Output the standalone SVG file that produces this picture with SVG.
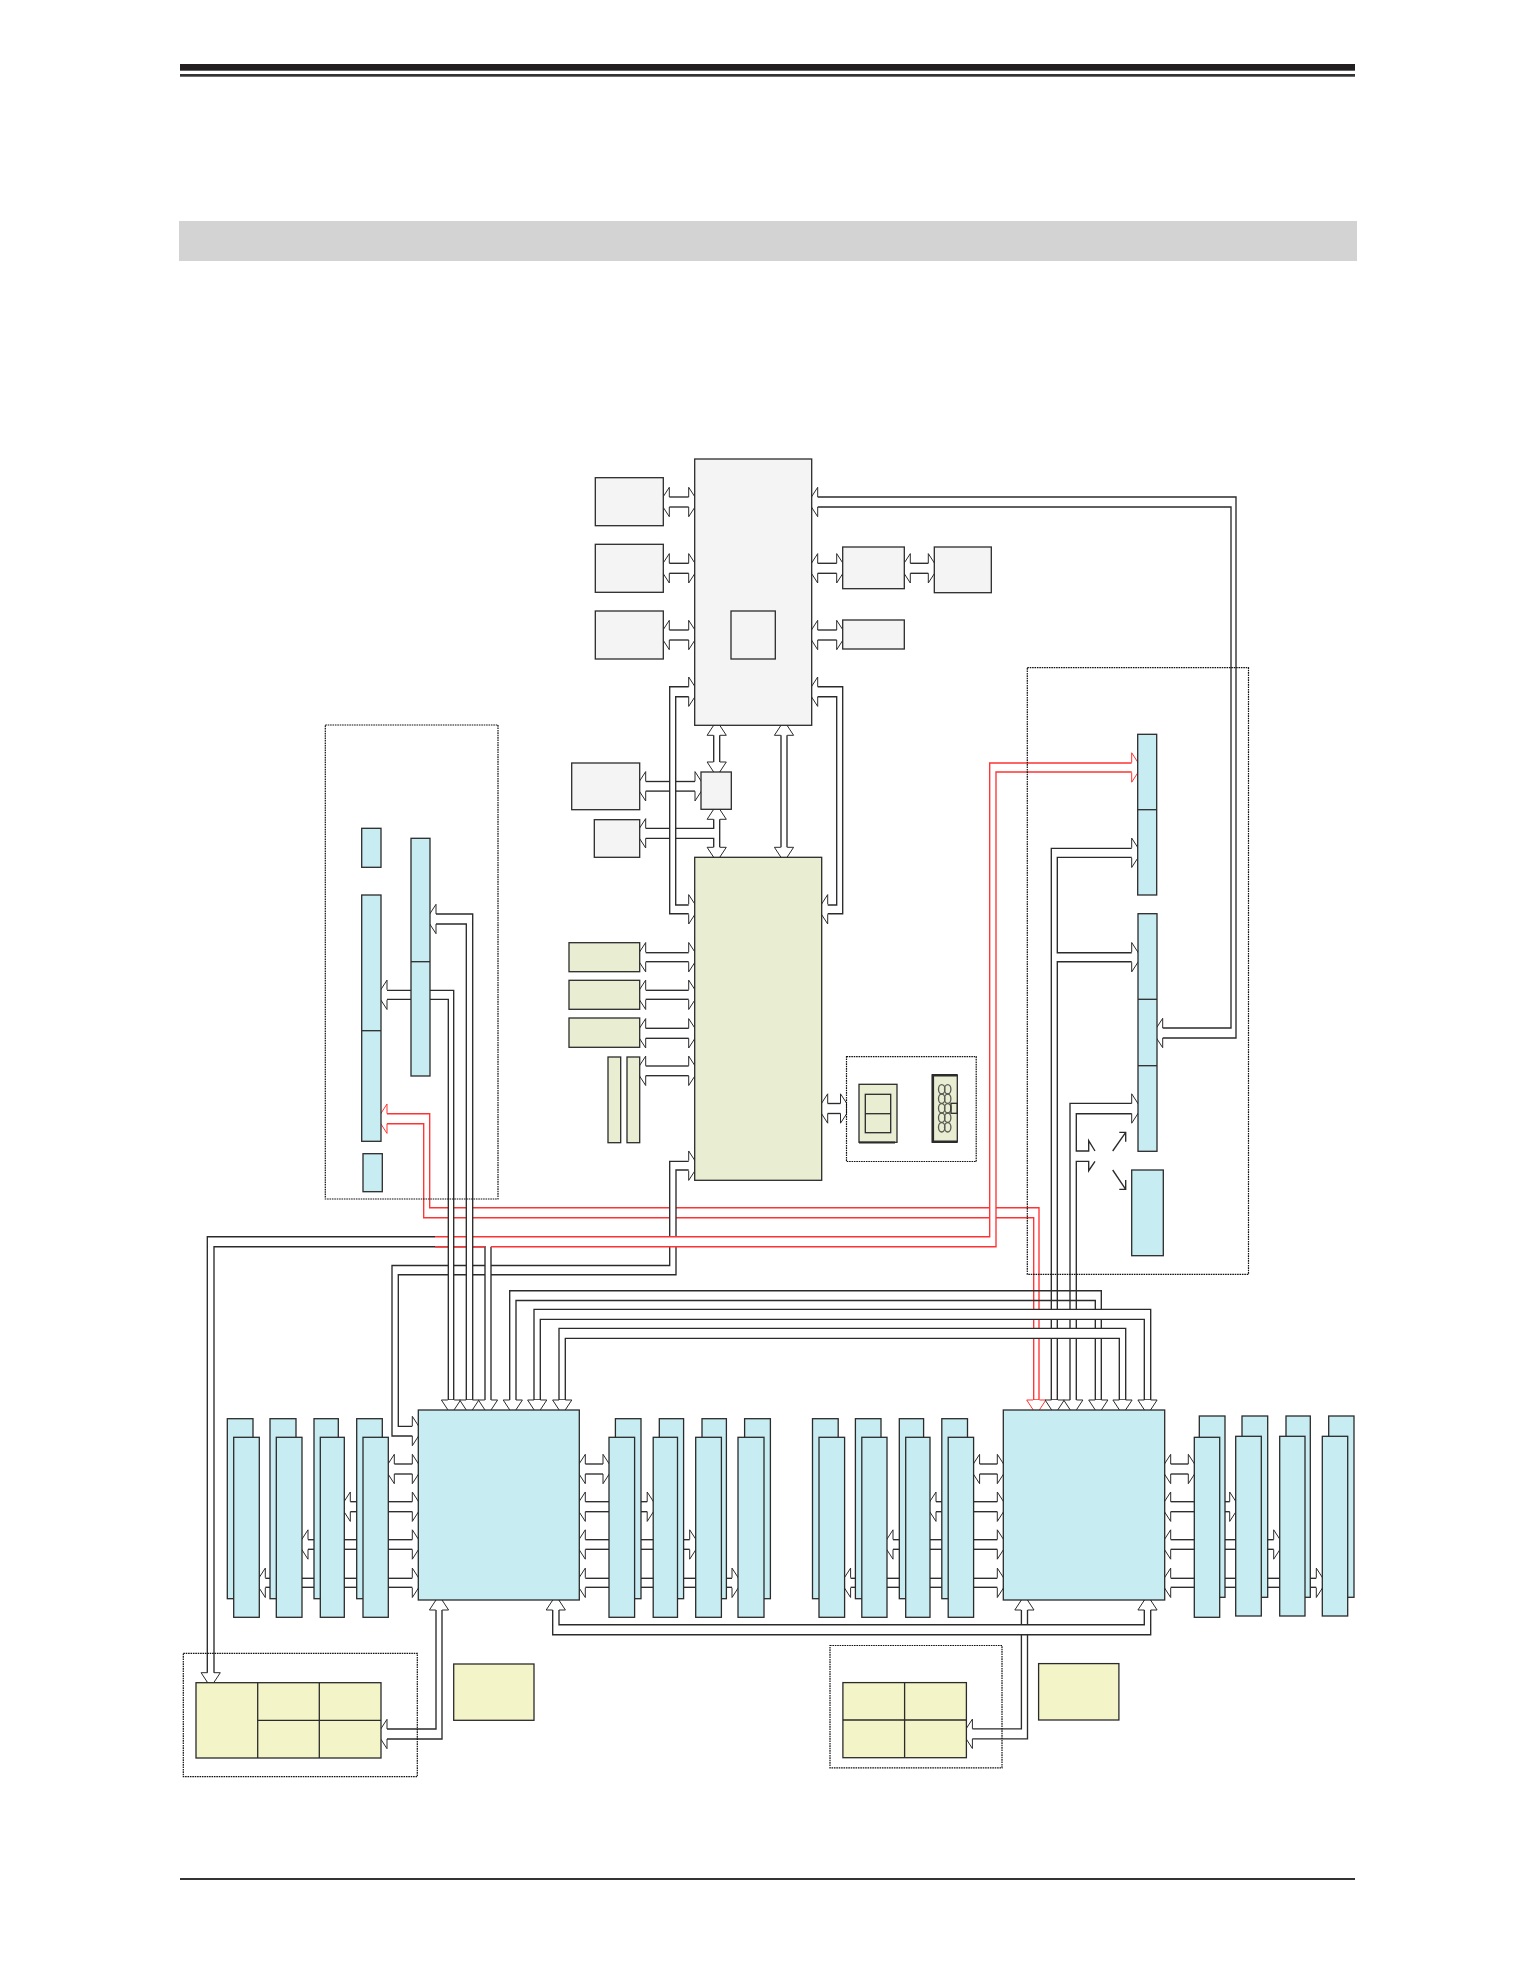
<svg xmlns="http://www.w3.org/2000/svg" xmlns:xlink="http://www.w3.org/1999/xlink" width="1536" height="1988" viewBox="0 0 1536 1988">
<style>
.g{fill:#f4f4f4}.e{fill:#e9edd2}.b{fill:#c7ecf2}.y{fill:#f3f4c8}
#nodes rect,#nodes line,#nodes ellipse,#nodes path{stroke:#2b2b2b;stroke-width:1.3}
.dash{fill:none;stroke:#111;stroke-width:1.2;stroke-dasharray:1.6 .8}
.n{fill:none}
defs path{stroke-width:1}
</style>
<defs>
<path id="hr" d="M-9.5,-5V-14.7L0,0L-9.5,14.7V5"/>
<path id="hl" d="M9.5,-5V-14.7L0,0L9.5,14.7V5"/>
<path id="hd" d="M-3.2,-14.6H-9.6L0,0L9.6,-14.6H3.2"/>
<path id="hu" d="M-3.2,14.6H-9.6L0,0L9.6,14.6H3.2"/>
</defs>
<rect width="1536" height="1988" fill="#fff"/>
<g id="page">
<rect x="180" y="64" width="1175" height="6.7" fill="#231f20"/>
<rect x="180" y="74" width="1175" height="2.7" fill="#333"/>
<rect x="179" y="221" width="1178" height="40" fill="#d3d3d3"/>
<rect x="180" y="1878" width="1175" height="2" fill="#333"/>
</g>
<g id="connectors" fill="#fff" stroke="#2b2b2b" stroke-width="1.35">
<!-- memory rows -->
<g id="mem-cpu1-left">
<rect x="388.3" y="1464" width="30" height="10"/><use href="#hl" x="384.8" y="1469"/><use href="#hr" x="421.8" y="1469"/>
<rect x="344.3" y="1501.7" width="74" height="10"/><use href="#hl" x="340.8" y="1506.7"/><use href="#hr" x="421.8" y="1506.7"/>
<rect x="302" y="1539.7" width="116.3" height="9.6"/><use href="#hl" x="298.5" y="1544.5"/><use href="#hr" x="421.8" y="1544.5"/>
<rect x="259.3" y="1578.3" width="159" height="9"/><use href="#hl" x="255.8" y="1582.8"/><use href="#hr" x="421.8" y="1582.8"/>
</g>
<g id="mem-cpu1-right">
<rect x="579.3" y="1464" width="29.7" height="10"/><use href="#hl" x="575.8" y="1469"/><use href="#hr" x="612.5" y="1469"/>
<rect x="579.3" y="1501.7" width="73.9" height="10"/><use href="#hl" x="575.8" y="1506.7"/><use href="#hr" x="656.7" y="1506.7"/>
<rect x="579.3" y="1539.7" width="116.4" height="9.6"/><use href="#hl" x="575.8" y="1544.5"/><use href="#hr" x="699.2" y="1544.5"/>
<rect x="579.3" y="1578.3" width="158.7" height="9"/><use href="#hl" x="575.8" y="1582.8"/><use href="#hr" x="741.5" y="1582.8"/>
</g>
<g id="mem-cpu2-left">
<rect x="973.6" y="1464" width="29.7" height="10"/><use href="#hl" x="970.1" y="1469"/><use href="#hr" x="1006.8" y="1469"/>
<rect x="930" y="1501.7" width="73.3" height="10"/><use href="#hl" x="926.5" y="1506.7"/><use href="#hr" x="1006.8" y="1506.7"/>
<rect x="887" y="1539.7" width="116.3" height="9.6"/><use href="#hl" x="883.5" y="1544.5"/><use href="#hr" x="1006.8" y="1544.5"/>
<rect x="844.6" y="1578.3" width="158.7" height="9"/><use href="#hl" x="841.1" y="1582.8"/><use href="#hr" x="1006.8" y="1582.8"/>
</g>
<g id="mem-cpu2-right">
<rect x="1164.7" y="1464" width="29.6" height="10"/><use href="#hl" x="1161.2" y="1469"/><use href="#hr" x="1197.8" y="1469"/>
<rect x="1164.7" y="1501.7" width="71" height="10"/><use href="#hl" x="1161.2" y="1506.7"/><use href="#hr" x="1239.2" y="1506.7"/>
<rect x="1164.7" y="1539.7" width="115" height="9.6"/><use href="#hl" x="1161.2" y="1544.5"/><use href="#hr" x="1283.2" y="1544.5"/>
<rect x="1164.7" y="1578.3" width="157.6" height="9"/><use href="#hl" x="1161.2" y="1582.8"/><use href="#hr" x="1325.8" y="1582.8"/>
</g>
<!-- PCH region -->
<rect x="663.3" y="497" width="31.4" height="10"/><use href="#hl" x="659.8" y="502"/><use href="#hr" x="698.2" y="502"/>
<rect x="663.3" y="563.3" width="31.4" height="10"/><use href="#hl" x="659.8" y="568.3"/><use href="#hr" x="698.2" y="568.3"/>
<rect x="663.3" y="630" width="31.4" height="10"/><use href="#hl" x="659.8" y="635"/><use href="#hr" x="698.2" y="635"/>
<rect x="811.7" y="563.3" width="31" height="10"/><use href="#hl" x="808.2" y="568.3"/><use href="#hr" x="846.2" y="568.3"/>
<rect x="904.3" y="563.3" width="30" height="10"/><use href="#hl" x="900.8" y="568.3"/><use href="#hr" x="937.8" y="568.3"/>
<rect x="811.7" y="630" width="31" height="10"/><use href="#hl" x="808.2" y="635"/><use href="#hr" x="846.2" y="635"/>
<path d="M812,497H1236V1038H1156V1028H1231V507H812Z"/><use href="#hl" x="808.2" y="502"/><use href="#hl" x="1153.2" y="1033"/>
<rect x="713.7" y="725.3" width="6" height="46.7"/><use href="#hu" x="716.7" y="720.7"/><use href="#hd" x="716.7" y="776.6"/>
<rect x="781" y="725.3" width="6" height="132"/><use href="#hu" x="784" y="720.7"/><use href="#hd" x="784" y="861.9"/>
<rect x="639.7" y="781.5" width="61.3" height="9.6"/><use href="#hl" x="636.2" y="786.3"/><use href="#hr" x="704.5" y="786.3"/>
<path d="M713.7,809.3V828.3H639.7V838.3H713.7V857.3H719.7V809.3Z"/><use href="#hu" x="716.7" y="804.7"/><use href="#hd" x="716.7" y="861.9"/><use href="#hl" x="636.2" y="833.3"/>
<path d="M695,686.7H669.7V913.7H695V905H675.7V696.7H695Z"/><use href="#hr" x="698.2" y="691.7"/><use href="#hr" x="698.2" y="909.3"/>
<path d="M812,686.7H842.7V913.7H821V905H836.7V696.7H812Z"/><use href="#hl" x="808.2" y="691.7"/><use href="#hl" x="818.2" y="909.3"/>
<rect x="639.7" y="952.7" width="55" height="9"/><use href="#hl" x="636.2" y="957.2"/><use href="#hr" x="698.2" y="957.2"/>
<rect x="639.7" y="990.3" width="55" height="9"/><use href="#hl" x="636.2" y="994.8"/><use href="#hr" x="698.2" y="994.8"/>
<rect x="639.7" y="1028.3" width="55" height="10"/><use href="#hl" x="636.2" y="1033.3"/><use href="#hr" x="698.2" y="1033.3"/>
<rect x="639.7" y="1066" width="55" height="9.7"/><use href="#hl" x="636.2" y="1070.8"/><use href="#hr" x="698.2" y="1070.8"/>
<rect x="821.7" y="1103.5" width="20" height="10"/><use href="#hl" x="818.2" y="1108.5"/>
<path stroke-width="1" d="M840.5,1103.5V1093.8L846.5,1103V1114L840.5,1123.2V1113.5"/>
<!-- upper red band -->
<g stroke="#f33">
<path d="M381,1113.7H429.7V1207.7H1039V1400H1033.7V1217.7H423.7V1123.7H381Z"/><use href="#hl" x="377.5" y="1118.7"/>
</g>
<!-- PCH to CPU1 -->
<path d="M695,1161.3H669.7V1265.5H392V1436H418.3V1426.3H398.3V1274.7H676V1170H695Z"/><use href="#hr" x="698.2" y="1165.7"/><use href="#hr" x="421.8" y="1431"/>
<!-- video path to CPU1 and yellow -->
<path stroke="none" d="M207.3,1690V1236.7H491V1400H485V1246.7H214V1690Z"/>
<path fill="none" d="M207.3,1690V1236.7H435M214,1690V1246.7H485V1400M491,1400V1246.7"/>
<use href="#hd" x="210.7" y="1687.3"/>
<!-- lower red band -->
<path stroke="none" d="M491,1236.7H989.7V763H1137.7V772H996V1246.7H491Z"/>
<g stroke="#f33">
<path fill="none" d="M435,1236.7H989.7V763H1137.7M1137.7,772H996V1246.7H491M485,1246.7H435"/>
<use href="#hr" x="1141.2" y="767.5"/>
</g>
<!-- left panel verticals -->
<path d="M381,990.3H453.7V1400H448.3V999.3H381Z"/><use href="#hl" x="377.5" y="994.8"/>
<path d="M430,914H472.7V1400H466.3V924H430Z"/><use href="#hl" x="426.5" y="919"/>
<!-- right panel verticals -->
<path d="M1051.3,1400V848.3H1137.7V857.3H1057.3V952.7H1137.7V961.7H1057.3V1400Z"/>
<use href="#hr" x="1141.2" y="852.8"/><use href="#hr" x="1141.2" y="957.2"/>
<path stroke="none" d="M1070,1400V1103.3H1138V1113.7H1076.3V1151H1095V1161.3H1076.3V1400Z"/>
<path fill="none" d="M1070,1400V1103.3H1138M1138,1113.7H1076.3V1151H1088.7V1140.7L1095,1151M1095,1161.3L1088.7,1170.7V1161.3H1076.3V1400"/>
<use href="#hr" x="1141.2" y="1108.5"/>
<path fill="none" d="M1112.7,1151L1125.7,1132.3M1119.3,1132.3H1125.7V1141.7M1112.7,1170L1125.7,1189.3M1125.7,1180V1189.3H1119.3"/>
<!-- CPU interconnect buses -->
<path fill="none" d="M509.7,1400V1290.7H1101.3V1400H1095.3V1300.5H516V1400"/>
<path d="M534,1400V1309.3H1150.7V1400H1144.3V1319.3H540.3V1400Z"/>
<path d="M559,1400V1328.3H1125.7V1400H1119.3V1338.3H565.3V1400Z"/>
<!-- heads at CPU tops -->
<use href="#hd" x="451" y="1414.6"/><use href="#hd" x="469.3" y="1414.6"/><use href="#hd" x="488" y="1414.6"/><use href="#hd" x="512.8" y="1414.6"/><use href="#hd" x="537.2" y="1414.6"/><use href="#hd" x="562.2" y="1414.6"/>
<use href="#hd" x="1036.3" y="1414.6" stroke="#f33"/><use href="#hd" x="1054.7" y="1414.6"/><use href="#hd" x="1073.3" y="1414.6"/><use href="#hd" x="1098.3" y="1414.6"/><use href="#hd" x="1122.5" y="1414.6"/><use href="#hd" x="1147.5" y="1414.6"/>
<!-- CPU to bottom groups -->
<path d="M436,1600V1729H381V1739H442V1600Z"/><use href="#hu" x="439" y="1595.4"/><use href="#hl" x="377.5" y="1734"/>
<path d="M1021.4,1600V1728.8H966.4V1738.8H1027.5V1600Z"/><use href="#hu" x="1024.4" y="1595.4"/><use href="#hl" x="962.9" y="1733.8"/>
<path d="M552.7,1600V1634.7H1150.7V1600H1144.3V1624.7H559V1600Z"/><use href="#hu" x="555.8" y="1595.4"/><use href="#hu" x="1147.5" y="1595.4"/>
</g>
<g id="nodes">
<g id="pch"><rect class="g" x="694.7" y="459" width="117" height="266.3"/><rect class="g" x="731" y="611" width="44.3" height="48"/></g>
<rect id="pch-l1" class="g" x="595.3" y="477.7" width="68" height="48"/>
<rect id="pch-l2" class="g" x="595.3" y="544.3" width="68" height="48"/>
<rect id="pch-l3" class="g" x="595.3" y="611" width="68" height="48"/>
<rect id="pch-r1" class="g" x="842.7" y="547" width="61.6" height="41.7"/>
<rect id="pch-r2" class="g" x="934.3" y="547" width="57" height="45.7"/>
<rect id="pch-r3" class="g" x="842.7" y="620" width="61.6" height="29"/>
<rect id="hub" class="g" x="701" y="772" width="30.3" height="37.3"/>
<rect id="hub-l1" class="g" x="571.7" y="763" width="68" height="46.7"/>
<rect id="hub-l2" class="g" x="594.3" y="819.7" width="45.4" height="37.6"/>
<rect id="io" class="e" x="694.7" y="857.3" width="127" height="323"/>
<rect id="io-l1" class="e" x="569" y="942.7" width="70.7" height="29"/>
<rect id="io-l2" class="e" x="569" y="980.3" width="70.7" height="29"/>
<rect id="io-l3" class="e" x="569" y="1018" width="70.7" height="29.3"/>
<rect id="io-t1" class="e" x="608" y="1057" width="12.7" height="85.7"/>
<rect id="io-t2" class="e" x="627" y="1057" width="12.7" height="85.7"/>
<g id="port1"><rect class="e" x="859" y="1084.3" width="38" height="58"/><path fill="none" style="stroke-width:2" d="M859,1142.6H895"/><rect class="n" x="865.3" y="1094.3" width="25.4" height="38.4"/><line x1="865.3" y1="1113.7" x2="890.7" y2="1113.7"/></g>
<g id="port2"><rect class="e" x="932.3" y="1075" width="25" height="67"/><path fill="none" style="stroke-width:2.4" d="M957.3,1075.2H932.9V1141.8H957.3"/>
<g fill="none" style="opacity:.75"><ellipse class="n" cx="941.7" cy="1089.3" rx="3.2" ry="4.7"/><ellipse class="n" cx="947.7" cy="1089.3" rx="3.2" ry="4.7"/><ellipse class="n" cx="941.7" cy="1098.7" rx="3.2" ry="4.7"/><ellipse class="n" cx="947.7" cy="1098.7" rx="3.2" ry="4.7"/><ellipse class="n" cx="941.7" cy="1108.3" rx="3.2" ry="4.7"/><ellipse class="n" cx="947.7" cy="1108.3" rx="3.2" ry="4.7"/><ellipse class="n" cx="941.7" cy="1117.7" rx="3.2" ry="4.7"/><ellipse class="n" cx="947.7" cy="1117.7" rx="3.2" ry="4.7"/><ellipse class="n" cx="941.7" cy="1127.3" rx="3.2" ry="4.7"/><ellipse class="n" cx="947.7" cy="1127.3" rx="3.2" ry="4.7"/></g>
<rect class="n" x="951" y="1103.3" width="6.3" height="10"/></g>
<g id="slot-a"><rect class="b" x="361.7" y="828.3" width="19.3" height="39"/></g>
<g id="slot-b"><rect class="b" x="361.7" y="895" width="19.3" height="246.3"/><line x1="361.7" y1="1030.7" x2="381" y2="1030.7"/></g>
<g id="slot-c"><rect class="b" x="411" y="838.3" width="19" height="237.7"/><line x1="411" y1="961.7" x2="430" y2="961.7"/></g>
<g id="slot-d"><rect class="b" x="363" y="1153.7" width="19.3" height="38"/></g>
<g id="slot-e"><rect class="b" x="1137.7" y="734.3" width="19" height="160.7"/><line x1="1137.7" y1="809.7" x2="1156.7" y2="809.7"/></g>
<g id="slot-f"><rect class="b" x="1138" y="913.7" width="19" height="237.6"/><line x1="1138" y1="999.3" x2="1157" y2="999.3"/><line x1="1138" y1="1065.7" x2="1157" y2="1065.7"/></g>
<rect id="slot-g" class="b" x="1131.7" y="1170" width="31.6" height="85.7"/>
<rect id="cpu1" class="b" x="418.3" y="1410" width="161" height="190"/>
<rect id="cpu2" class="b" x="1003.3" y="1410" width="161.4" height="190"/>
<g id="dimms-rear" class="b">
<rect class="b" x="227.3" y="1418.7" width="25.7" height="180"/><rect class="b" x="270" y="1418.7" width="26" height="180"/><rect class="b" x="314" y="1418.7" width="24.3" height="180"/><rect class="b" x="356.7" y="1418.7" width="25.6" height="180"/>
<rect class="b" x="615.4" y="1418.7" width="25.6" height="180"/><rect class="b" x="659.3" y="1418.7" width="24.3" height="180"/><rect class="b" x="702" y="1418.7" width="24.4" height="180"/><rect class="b" x="744.6" y="1418.7" width="25.8" height="180"/>
<rect class="b" x="812.5" y="1418.7" width="25.7" height="180"/><rect class="b" x="855.4" y="1418.7" width="25.6" height="180"/><rect class="b" x="899.3" y="1418.7" width="24.3" height="180"/><rect class="b" x="941.8" y="1418.7" width="25.7" height="180"/>
<rect class="b" x="1199.3" y="1416" width="25.7" height="181.3"/><rect class="b" x="1242" y="1416" width="25.7" height="181.3"/><rect class="b" x="1286" y="1416" width="24.3" height="181.3"/><rect class="b" x="1328.7" y="1416" width="25.3" height="181.3"/>
</g>
<g id="dimms-front">
<rect class="b" x="233.7" y="1437.3" width="25.6" height="180"/><rect class="b" x="276.3" y="1437.3" width="25.7" height="180"/><rect class="b" x="320.3" y="1437.3" width="24" height="180"/><rect class="b" x="363" y="1437.3" width="25.3" height="180"/>
<rect class="b" x="609" y="1437.3" width="25.6" height="180"/><rect class="b" x="653.2" y="1437.3" width="24.3" height="180"/><rect class="b" x="695.7" y="1437.3" width="25.7" height="180"/><rect class="b" x="738" y="1437.3" width="26" height="180"/>
<rect class="b" x="819" y="1437.3" width="25.6" height="180"/><rect class="b" x="861.8" y="1437.3" width="25.2" height="180"/><rect class="b" x="905.7" y="1437.3" width="24.3" height="180"/><rect class="b" x="948.2" y="1437.3" width="25.4" height="180"/>
<rect class="b" x="1194.3" y="1437.3" width="25.4" height="180"/><rect class="b" x="1235.7" y="1436.3" width="25.6" height="179.7"/><rect class="b" x="1279.7" y="1436.3" width="25.3" height="179.7"/><rect class="b" x="1322.3" y="1436.3" width="25.4" height="179.7"/>
</g>
<g id="drives1"><rect class="y" x="196" y="1682.7" width="185" height="75.3"/><line x1="257.7" y1="1682.7" x2="257.7" y2="1758"/><line x1="319.3" y1="1682.7" x2="319.3" y2="1758"/><line x1="257.7" y1="1720.3" x2="381" y2="1720.3"/></g>
<rect id="mod1" class="y" x="453.7" y="1664" width="80.3" height="56.3"/>
<g id="drives2"><rect class="y" x="842.9" y="1682.6" width="123.5" height="75.1"/><line x1="904.6" y1="1682.6" x2="904.6" y2="1757.7"/><line x1="842.9" y1="1720" x2="966.4" y2="1720"/></g>
<rect id="mod2" class="y" x="1038.6" y="1663.6" width="80.3" height="56.4"/>
</g>
<g id="groups">
<rect class="dash" x="325.3" y="725" width="172.7" height="474"/>
<rect class="dash" x="1027.3" y="667.7" width="221.2" height="606.6"/>
<rect class="dash" x="846.5" y="1056.7" width="129.7" height="104.8"/>
<rect class="dash" x="183.3" y="1653.3" width="234" height="123.4"/>
<rect class="dash" x="830" y="1645.5" width="172" height="122.3"/>
</g>
</svg>
